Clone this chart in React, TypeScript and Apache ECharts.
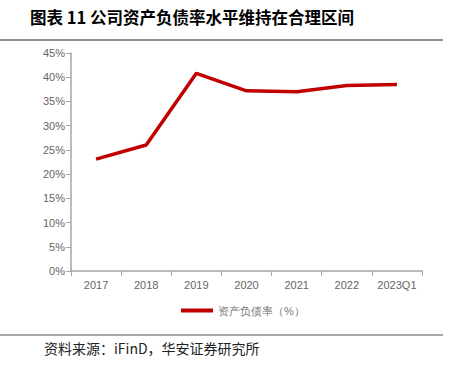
import React, { useEffect, useRef } from "react";
import * as echarts from "echarts";

const categories = ["2017", "2018", "2019", "2020", "2021", "2022", "2023Q1"];
const debtRatio = [23.1, 26.0, 40.8, 37.2, 37.0, 38.3, 38.5];
const seriesName = "资产负债率（%）";
const titleText = "图表 11 公司资产负债率水平维持在合理区间";
const sourceText = "资料来源：iFinD，华安证券研究所";

export default function App() {
  const ref = useRef<HTMLDivElement>(null);
  useEffect(() => {
    const chart = echarts.init(ref.current!, undefined, { renderer: "svg" });
    chart.setOption({
      animation: false,
      grid: { left: 71, right: 35, top: 53, bottom: 98 },
      xAxis: {
        type: "category",
        data: categories,
        axisLine: { lineStyle: { color: "#a6a6a6", width: 1.5 } },
        axisTick: { show: true, interval: 0, lineStyle: { color: "#a6a6a6" } },
        axisLabel: {
          color: "#666",
          fontSize: 11,
          interval: 0,
          fontFamily: "Liberation Sans, Arial",
          margin: 8,
        },
      },
      yAxis: {
        type: "value",
        min: 0,
        max: 45,
        interval: 5,
        axisLine: { show: true, lineStyle: { color: "#a6a6a6", width: 1.5 } },
        axisTick: { show: true, lineStyle: { color: "#a6a6a6" } },
        splitLine: { show: false },
        axisLabel: {
          color: "#666",
          fontSize: 11,
          fontFamily: "Liberation Sans, Arial",
          formatter: "{value}%",
          margin: 6,
        },
      },
      legend: {
        bottom: 48,
        left: 176,
        itemWidth: 32,
        itemHeight: 4,
        itemGap: 4,
        icon: "rect",
        textStyle: { color: "#777", fontSize: 11 },
        data: [seriesName],
      },
      series: [
        {
          name: seriesName,
          type: "line",
          data: debtRatio,
          symbol: "none",
          lineStyle: { color: "#C00000", width: 3.5 },
          itemStyle: { color: "#C00000" },
        },
      ],
      graphic: [
        {
          type: "text",
          left: 30,
          top: 9,
          style: {
            text: titleText,
            fill: "#000",
            font: "bold 16.5px 'Noto Sans CJK SC', sans-serif",
          },
        },
        {
          type: "line",
          shape: { x1: 0, y1: 40, x2: 443, y2: 40 },
          style: { stroke: "#222", lineWidth: 1.2 },
        },
        {
          type: "line",
          shape: { x1: 0, y1: 335, x2: 443, y2: 335 },
          style: { stroke: "#555", lineWidth: 1 },
        },
        {
          type: "text",
          left: 44,
          top: 341,
          style: {
            text: sourceText,
            fill: "#222",
            font: "14px 'Noto Sans CJK SC', sans-serif",
          },
        },
      ],
    });
    return () => chart.dispose();
  }, []);
  return <div ref={ref} style={{ width: 457, height: 369, position: "absolute", left: 0, top: 0 }} />;
}
